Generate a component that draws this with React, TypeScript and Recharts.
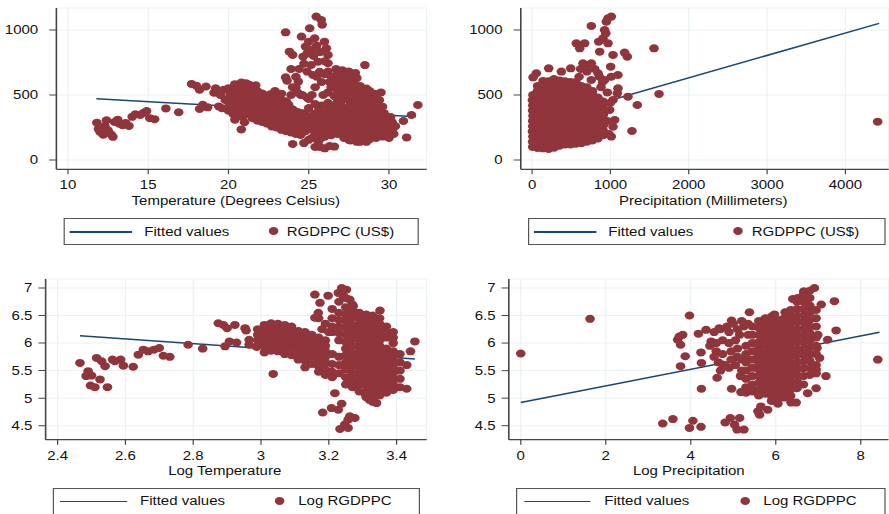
import React from "react";
import { ScatterChart, Scatter, XAxis, YAxis, CartesianGrid } from "recharts";

// the reference image is stretched sideways, so the whole figure is drawn narrow and scaled in x
const S = 1.2;
const FONT = '"Liberation Sans", Arial, Helvetica, sans-serif';
const NAVY = "#1a476f";
const MAROON = "#90353b";
const GRID = "#eaf2f3";
const AXIS = "#444";

// ---- ticks ----
const tempTicks = [10, 15, 20, 25, 30];
const precipTicks = [0, 1000, 2000, 3000, 4000];
const gdpTicks = [0, 500, 1000];
const logTempTicks = [2.4, 2.6, 2.8, 3, 3.2, 3.4];
const logPrecipTicks = [0, 2, 4, 6, 8];
const logGdpTicks = [4.5, 5, 5.5, 6, 6.5, 7];

// ---- fitted values (end points) ----
const tempFit = [[11.77, 472], [31.66, 333]];
const precipFit = [[0, 287], [4430, 1051]];
const logTempFit = [[2.466, 6.134], [3.454, 5.71]];
const logPrecipFit = [[0, 4.92], [8.44, 6.195]];

// ---- Temperature (C) vs RGDPPC (US$) ----
const tempGdp = [
  [11.8,287],[11.9,238],[12.0,215],[12.2,195],[12.3,262],[12.4,306],[12.5,228],[12.7,196],[12.8,178],[12.9,292],
  [13.1,310],[13.2,280],[13.4,268],[13.6,285],[13.8,262],[14.0,332],[14.2,352],[14.5,346],[14.7,362],[14.9,376],
  [15.1,322],[15.4,314],[16.1,397],[16.9,367],
  [17.7,585],[18.0,572],[18.2,540],[18.6,565],[18.2,392],[18.4,425],[18.7,405],[19.2,552],[19.1,518],[19.4,412],
  [19.6,398],[19.8,462],[19.7,540],[19.5,500],
  [20.0,380],[20.0,445],[20.1,500],[20.0,552],[20.3,352],[20.3,418],[20.4,482],[20.3,540],[20.4,583],
  [20.6,340],[20.7,402],[20.6,462],[20.7,520],[20.6,568],[20.8,596],[20.9,332],[21.0,392],[20.9,452],
  [21.0,508],[21.0,560],[21.1,590],[21.2,362],[21.3,420],[21.2,480],[21.3,540],[21.3,578],[21.5,322],
  [21.6,382],[21.5,440],[21.6,500],[21.5,550],[21.7,575],[21.8,302],[21.9,362],[21.8,420],[21.9,480],
  [21.8,530],[22.1,292],[22.2,352],[22.1,410],[22.2,470],[22.1,512],[20.8,235],[20.4,310],[21.0,290],
  [20.15,410],[20.15,470],[20.15,525],[20.45,385],[20.45,450],[20.45,510],[20.45,560],[20.75,370],[20.75,430],
  [20.75,490],[20.75,545],[21.05,360],[21.05,420],[21.05,480],[21.05,535],[21.35,350],[21.35,390],[21.35,450],
  [21.35,510],[21.35,560],[21.65,350],[21.65,410],[21.65,470],[21.65,525],[21.95,330],[21.95,390],[21.95,450],
  [21.95,505],[22.25,320],[22.25,380],[22.25,440],[22.25,490],
  [22.4,280],[22.5,340],[22.4,400],[22.5,460],[22.6,505],[22.7,258],[22.8,320],[22.7,380],[22.8,440],
  [22.9,490],[23.0,250],[23.1,302],[23.0,362],[23.1,420],[23.0,480],[23.3,232],[23.4,290],[23.3,350],
  [23.4,410],[23.3,460],[23.6,222],[23.7,280],[23.6,340],[23.7,400],[23.6,452],[23.9,212],[24.0,270],
  [23.9,330],[24.0,390],[23.9,500],[24.2,200],[24.3,252],[24.2,310],[24.3,370],[24.2,560],[24.5,192],
  [24.6,240],[24.5,300],[24.6,360],[24.5,500],[24.8,222],[24.9,290],[24.8,350],[24.9,480],
  [22.55,310],[22.55,370],[22.55,430],[22.55,480],[22.85,290],[22.85,350],[22.85,410],[22.85,465],[23.15,275],
  [23.15,330],[23.15,390],[23.15,450],[23.45,260],[23.45,320],[23.45,380],[23.45,435],[23.75,250],[23.75,310],
  [23.75,370],[23.75,425],[24.05,240],[24.05,300],[24.05,360],[24.35,225],[24.35,280],[24.35,340],[24.65,215],
  [24.65,270],[24.65,330],[24.95,250],[24.95,320],
  [24.0,123],[24.7,130],[25.0,155],[22.9,530],[23.3,510],
  [25.2,170],[25.3,230],[25.2,290],[25.3,350],[25.6,140],[25.7,200],[25.6,260],[25.7,320],[25.6,380],
  [26.0,180],[26.1,240],[26.0,300],[26.1,360],[26.4,190],[26.5,250],[26.4,310],[26.5,370],
  [26.8,200],[26.9,260],[26.8,320],[26.9,380],[27.2,170],[27.3,230],[27.2,290],[27.3,350],[27.2,400],
  [27.6,150],[27.7,210],[27.6,270],[27.7,330],[27.6,390],[28.0,140],[28.1,200],[28.0,260],[28.1,320],
  [28.0,380],[28.4,150],[28.5,210],[28.4,270],[28.5,330],[28.4,390],[28.8,160],[28.9,220],[28.8,280],
  [28.9,340],[29.2,170],[29.3,230],[29.2,290],[29.3,350],[29.6,180],[29.7,240],[29.6,300],[29.7,360],
  [30.0,170],[30.1,230],[30.0,290],[30.1,330],[30.3,200],[30.4,260],
  [25.4,200],[25.4,260],[25.4,320],[25.8,170],[25.8,230],[25.8,290],[25.8,350],[26.2,210],[26.2,270],
  [26.2,330],[26.2,390],[26.6,220],[26.6,280],[26.6,340],[26.6,400],[27.0,230],[27.0,290],[27.0,350],
  [27.0,410],[27.4,200],[27.4,260],[27.4,320],[27.4,380],[27.8,180],[27.8,240],[27.8,300],[27.8,360],
  [27.8,410],[28.2,170],[28.2,230],[28.2,290],[28.2,350],[28.2,410],[28.6,180],[28.6,240],[28.6,300],
  [28.6,360],[29.0,190],[29.0,250],[29.0,310],[29.0,370],[29.4,200],[29.4,260],[29.4,320],[29.4,380],
  [29.8,210],[29.8,270],[29.8,330],[30.2,230],[30.2,290],
  [25.4,100],[25.7,100],[26.0,90],[26.3,108],[26.6,103],[27.5,155],[28.2,140],[28.6,140],[31.1,174],
  [31.4,346],[31.8,423],[30.9,300],
  [26.2,520],[26.3,600],[26.2,680],[26.6,490],[26.7,560],[26.6,640],[26.7,700],[27.0,480],[27.1,550],
  [27.0,620],[27.1,690],[27.4,470],[27.5,540],[27.4,610],[27.5,680],[27.8,460],[27.9,530],[27.8,600],
  [27.9,670],[28.2,450],[28.3,510],[28.2,570],[28.6,440],[28.7,500],[28.6,550],[29.0,450],[29.1,510],
  [29.4,460],[29.5,520],[28.5,730],[29.6,410],[29.3,460],
  [26.4,560],[26.4,640],[26.8,520],[26.8,600],[26.8,670],[27.2,510],[27.2,580],[27.2,650],[27.6,500],
  [27.6,570],[27.6,640],[28.0,490],[28.0,560],[28.0,630],[28.4,480],[28.4,540],[28.8,470],[28.8,530],
  [29.2,480],[26.4,420],[27.0,440],[27.6,430],[28.2,420],[28.8,410],[29.2,420],[26.8,450],
  [23.56,982],[23.8,833],[24.0,808],[23.9,700],[23.56,636],[23.65,610],[24.35,603],[24.55,949],[25.06,1013],
  [25.37,936],[25.47,1103],[25.78,1077],[25.84,1040],[25.98,910],[26.1,859],[26.2,808],[24.8,872],[25.0,910],
  [25.15,731],[25.27,654],[24.65,795],[25.58,756],[25.68,679],[26.2,744],[24.3,520],[24.6,500],[25.0,470],
  [25.4,560],[25.8,600],[25.9,500],[24.0,560],[25.2,500],[25.0,400],[25.4,430],[25.8,420],[26.2,440],
  [24.2,640],[24.4,700],[24.7,740],[24.9,820],[25.2,850],[25.5,880],[25.7,830],[26.0,760],[25.3,800],
  [24.9,680],[25.5,640],[26.0,660],
];

// ---- Precipitation (mm) vs RGDPPC (US$) ----
const precipGdp = [
  [8,100],[6,140],[10,180],[5,220],[9,260],[7,300],[11,340],[6,380],[9,420],[5,460],[10,500],
  [70,92],[66,130],[73,170],[68,210],[72,250],[67,290],[74,330],[69,370],[71,410],[66,450],[73,490],[68,530],[71,570],
  [140,90],[136,130],[143,170],[138,210],[142,250],[137,290],[144,330],[139,370],[141,410],[136,450],[143,490],
  [138,530],[142,570],[140,608],
  [210,85],[206,125],[213,165],[208,205],[212,245],[207,285],[214,325],[209,365],[211,405],[206,445],[213,485],
  [208,525],[212,565],[209,605],
  [280,95],[276,135],[283,175],[278,215],[282,255],[277,295],[284,335],[279,375],[281,415],[276,455],[283,495],
  [278,535],[282,575],[280,622],
  [350,110],[346,150],[353,190],[348,230],[352,270],[347,310],[354,350],[349,390],[351,430],[346,470],[353,510],
  [348,550],[352,590],[350,612],
  [420,120],[416,160],[423,200],[418,240],[422,280],[417,320],[424,360],[419,400],[421,440],[416,480],[423,520],
  [418,560],[421,605],
  [490,120],[486,160],[493,200],[488,240],[492,280],[487,320],[494,360],[489,400],[491,440],[486,480],[493,520],
  [488,560],[491,600],
  [560,125],[556,165],[563,205],[558,245],[562,285],[557,325],[564,365],[559,405],[561,445],[556,485],[563,525],
  [558,565],[560,600],
  [630,130],[626,170],[633,210],[628,250],[632,290],[627,330],[634,370],[629,410],[631,450],[626,490],[633,530],
  [628,570],
  [700,140],[696,180],[703,220],[698,260],[702,300],[697,340],[704,380],[699,420],[701,460],[696,500],[703,540],
  [699,560],
  [770,150],[766,190],[773,230],[768,270],[772,310],[767,350],[774,390],[769,430],[771,470],[766,510],[772,530],
  [840,165],[836,205],[843,245],[838,285],[842,325],[837,365],[844,405],[839,445],[841,480],
  [910,190],[906,230],[913,270],[908,310],[912,350],[907,390],[914,430],[909,450],
  [13,636],[55,667],[212,705],[374,680],[493,705],[650,744],[756,744],[671,897],[565,897],[608,859],
  [756,1031],[850,910],[863,833],[905,936],[926,1000],[940,974],[969,1090],[1011,1103],[948,1064],
  [969,897],[1033,808],[1003,718],[1011,641],[1096,654],[1181,826],[1215,795],[1556,859],[1096,551],
  [1088,513],[1224,487],[1343,423],[1620,508],[1275,223],[1011,180],[4411,295],[926,615],[842,667],
  [756,615],[1033,462],[990,385],[1054,308],[1033,256],[700,680],[600,640],[880,560],[960,520],
  [1000,440],[960,300],[980,200],[620,700],[690,720],[800,700],[860,640],[900,600],
];

// ---- Log temperature vs log RGDPPC ----
const logTempGdp = [
  [2.466,5.64],[2.49,5.49],[2.484,5.40],[2.50,5.41],[2.497,5.23],[2.51,5.20],[2.515,5.73],[2.525,5.34],
  [2.53,5.67],[2.54,5.58],[2.547,5.20],[2.562,5.70],[2.569,5.67],[2.586,5.70],[2.594,5.59],[2.623,5.57],
  [2.638,5.79],[2.653,5.88],[2.667,5.85],[2.684,5.88],[2.70,5.91],[2.712,5.77],[2.731,5.75],[2.785,5.97],
  [2.828,5.90],[2.874,6.36],[2.889,6.33],[2.90,6.27],[2.923,6.33],[2.894,5.94],[2.907,6.03],[2.928,6.01],
  [2.953,6.27],[2.956,6.23],[2.965,6.06],[2.965,5.97],[2.987,5.93],[3.036,5.44],
  [2.99,6.25],[2.99,6.15],[2.99,6.05],[2.99,5.95],
  [3.01,6.33],[3.01,6.23],[3.01,6.13],[3.01,6.03],[3.01,5.93],[3.01,5.83],
  [3.03,6.36],[3.03,6.26],[3.03,6.16],[3.03,6.06],[3.03,5.96],[3.03,5.86],
  [3.05,6.35],[3.05,6.25],[3.05,6.15],[3.05,6.05],[3.05,5.95],[3.05,5.85],
  [3.07,6.33],[3.07,6.23],[3.07,6.13],[3.07,6.03],[3.07,5.93],[3.07,5.80],
  [3.09,6.30],[3.09,6.20],[3.09,6.10],[3.09,6.00],[3.09,5.90],[3.09,5.78],
  [3.11,6.22],[3.11,6.12],[3.11,6.02],[3.11,5.92],[3.11,5.80],[3.11,5.70],
  [3.13,6.20],[3.13,6.10],[3.13,6.00],[3.13,5.90],[3.13,5.80],[3.13,5.68],[3.13,5.56],
  [3.15,6.15],[3.15,6.05],[3.15,5.95],[3.15,5.85],[3.15,5.75],[3.15,5.62],
  [3.17,6.10],[3.17,6.00],[3.17,5.90],[3.17,5.80],[3.17,5.70],[3.17,5.58],[3.17,5.48],
  [3.19,6.05],[3.19,5.95],[3.19,5.85],[3.19,5.75],[3.19,5.65],[3.19,5.52],[3.19,5.42],
  [3.17,6.45],[3.19,6.35],[3.18,6.25],[3.20,6.20],
  [3.21,6.62],[3.21,6.45],[3.21,6.30],[3.21,6.20],[3.21,5.80],[3.21,5.62],[3.21,5.48],[3.21,5.38],
  [3.23,6.75],[3.23,6.55],[3.23,6.42],[3.23,6.30],[3.23,6.18],[3.23,6.05],[3.23,5.75],[3.23,5.60],[3.23,5.45],
  [3.25,6.82],[3.25,6.65],[3.25,6.52],[3.25,6.40],[3.25,6.28],[3.25,6.15],[3.25,6.02],[3.25,5.90],
  [3.25,5.78],[3.25,5.65],[3.25,5.52],[3.25,5.38],[3.25,5.25],
  [3.27,6.70],[3.27,6.58],[3.27,6.45],[3.27,6.32],[3.27,6.20],[3.27,6.08],[3.27,5.95],[3.27,5.82],
  [3.27,5.70],[3.27,5.58],[3.27,5.45],[3.27,5.32],[3.27,5.20],
  [3.29,6.55],[3.29,6.45],[3.29,6.35],[3.29,6.25],[3.29,6.15],[3.29,6.05],[3.29,5.95],[3.29,5.85],
  [3.29,5.75],[3.29,5.65],[3.29,5.55],[3.29,5.45],[3.29,5.35],[3.29,5.25],[3.29,5.12],
  [3.31,6.52],[3.31,6.42],[3.31,6.32],[3.31,6.22],[3.31,6.12],[3.31,6.02],[3.31,5.92],[3.31,5.82],
  [3.31,5.72],[3.31,5.62],[3.31,5.52],[3.31,5.42],[3.31,5.32],[3.31,5.22],[3.31,5.12],[3.31,5.02],
  [3.33,6.50],[3.33,6.40],[3.33,6.30],[3.33,6.20],[3.33,6.10],[3.33,6.00],[3.33,5.90],[3.33,5.80],
  [3.33,5.70],[3.33,5.60],[3.33,5.50],[3.33,5.40],[3.33,5.30],[3.33,5.20],[3.33,5.10],[3.33,5.00],[3.33,4.93],
  [3.35,6.45],[3.35,6.35],[3.35,6.25],[3.35,6.15],[3.35,6.05],[3.35,5.95],[3.35,5.85],[3.35,5.75],
  [3.35,5.65],[3.35,5.55],[3.35,5.45],[3.35,5.35],[3.35,5.25],[3.35,5.15],[3.35,5.05],
  [3.37,6.30],[3.37,6.20],[3.37,6.10],[3.37,5.90],[3.37,5.80],[3.37,5.70],[3.37,5.60],[3.37,5.50],
  [3.37,5.40],[3.37,5.30],[3.37,5.20],[3.37,5.10],
  [3.39,6.20],[3.39,6.10],[3.39,5.85],[3.39,5.75],[3.39,5.65],[3.39,5.55],[3.39,5.45],[3.39,5.35],
  [3.39,5.25],[3.39,5.15],
  [3.41,5.80],[3.41,5.65],[3.41,5.50],[3.41,5.35],[3.41,5.20],[3.43,5.60],
  [3.159,6.88],[3.174,6.73],[3.198,6.86],[3.228,6.91],[3.238,7.0],[3.252,6.97],[3.262,6.79],[3.243,6.85],
  [3.272,6.67],[3.282,6.55],[3.351,6.59],[3.159,6.46],[3.169,6.55],
  [3.182,4.74],[3.208,4.82],[3.218,5.09],[3.228,4.79],[3.238,4.90],[3.233,4.44],[3.247,4.52],[3.257,4.46],
  [3.262,4.67],[3.277,4.64],[3.257,4.61],[3.43,5.17],[3.441,5.85],[3.454,6.03],[3.39,6.0],[3.341,4.91],
  [3.32,4.97],[3.306,5.09],[3.267,5.24],
];

// ---- Log precipitation vs log RGDPPC ----
const logPrecipGdp = [
  [0,5.81],[1.63,6.44],[3.97,6.50],[3.69,6.06],[3.73,6.12],[3.81,6.15],[3.76,5.97],[3.87,5.76],[3.76,5.58],
  [3.34,4.54],[3.58,4.62],[3.97,4.46],[4.05,4.59],[4.24,4.48],[4.18,6.17],[4.36,6.24],[4.24,5.83],
  [4.25,5.64],[4.25,5.17],[4.48,6.03],[4.67,6.27],[4.62,5.37],[4.81,4.56],[4.93,4.64],[4.96,5.17],
  [4.96,6.41],[5.03,4.52],[5.09,4.43],[5.15,4.64],[5.25,4.43],[5.38,6.56],[5.58,4.76],[5.62,4.70],
  [5.65,4.85],[5.81,4.79],[6.36,4.92],[6.48,4.92],[7.18,5.40],[7.22,6.06],[7.42,6.23],[7.38,6.76],
  [8.40,5.70],[6.91,7.0],[6.66,6.94],[7.07,6.70],[6.95,5.18],[6.75,5.09],[5.97,6.52],[6.22,6.56],
  [6.40,6.80],[6.52,6.82],[6.99,6.15],[6.97,5.91],[7.03,5.73],[6.95,5.52],[5.17,5.40],[5.18,5.11],[4.75,5.61],
  [4.55,6.2],[4.7,6.25],[4.85,6.3],[4.9,6.2],[5.0,6.35],[5.1,6.25],[5.2,6.4],[5.25,6.3],[5.15,6.15],
  [4.6,6.0],[4.75,6.05],[4.9,6.0],[5.05,6.05],[4.45,5.95],[4.6,5.85],[4.75,5.8],[4.95,5.85],[5.1,5.9],
  [4.65,5.65],[4.8,5.6],[4.95,5.7],[5.1,5.75],[4.7,5.5],[4.9,5.55],[5.05,5.6],[5.2,5.5],[5.2,5.7],
  [5.35,6.15],[5.35,6.35],[4.55,5.75],
  [5.30,5.95],[5.30,5.80],[5.30,5.65],[5.30,5.50],[5.30,5.35],[5.30,5.20],[5.30,5.10],
  [5.45,6.30],[5.45,6.15],[5.45,6.00],[5.45,5.85],[5.45,5.70],[5.45,5.55],[5.45,5.40],[5.45,5.25],[5.45,5.12],
  [5.60,6.40],[5.60,6.28],[5.60,6.15],[5.60,6.02],[5.60,5.90],[5.60,5.78],[5.60,5.65],[5.60,5.52],
  [5.60,5.40],[5.60,5.28],[5.60,5.15],[5.60,5.05],
  [5.75,6.45],[5.75,6.32],[5.75,6.20],[5.75,6.08],[5.75,5.95],[5.75,5.82],[5.75,5.70],[5.75,5.58],
  [5.75,5.45],[5.75,5.32],[5.75,5.20],[5.75,5.08],
  [5.90,6.48],[5.90,6.36],[5.90,6.24],[5.90,6.12],[5.90,6.00],[5.90,5.88],[5.90,5.76],[5.90,5.64],
  [5.90,5.52],[5.90,5.40],[5.90,5.28],[5.90,5.16],[5.90,5.04],[5.90,4.95],
  [6.05,6.42],[6.05,6.30],[6.05,6.18],[6.05,6.06],[6.05,5.94],[6.05,5.82],[6.05,5.70],[6.05,5.58],
  [6.05,5.46],[6.05,5.34],[6.05,5.22],[6.05,5.10],[6.05,4.98],[6.05,4.90],
  [6.20,6.45],[6.20,6.33],[6.20,6.21],[6.20,6.09],[6.20,5.97],[6.20,5.85],[6.20,5.73],[6.20,5.61],
  [6.20,5.49],[6.20,5.37],[6.20,5.25],[6.20,5.13],[6.20,5.01],
  [6.35,6.60],[6.35,6.48],[6.35,6.36],[6.35,6.24],[6.35,6.12],[6.35,6.00],[6.35,5.88],[6.35,5.76],
  [6.35,5.64],[6.35,5.52],[6.35,5.40],[6.35,5.28],[6.35,5.16],[6.35,5.04],
  [6.50,6.75],[6.50,6.62],[6.50,6.50],[6.50,6.38],[6.50,6.26],[6.50,6.14],[6.50,6.02],[6.50,5.90],
  [6.50,5.78],[6.50,5.66],[6.50,5.54],[6.50,5.42],[6.50,5.30],[6.50,5.18],
  [6.65,6.88],[6.65,6.75],[6.65,6.62],[6.65,6.50],[6.65,6.38],[6.65,6.26],[6.65,6.14],[6.65,6.02],
  [6.65,5.90],[6.65,5.78],[6.65,5.66],[6.65,5.54],[6.65,5.40],[6.65,5.25],
  [6.80,6.95],[6.80,6.82],[6.80,6.68],[6.80,6.55],[6.80,6.42],[6.80,6.30],[6.80,6.18],[6.80,6.05],
  [6.80,5.92],[6.80,5.80],[6.80,5.68],[6.80,5.55],[6.80,5.42],
  [6.95,6.60],[6.95,6.45],[6.95,6.30],[6.95,6.10],[6.95,5.95],[6.95,5.80],[6.95,5.60],[6.95,5.45],
];

type Pt = { x: number; y: number };
const toPts = (rows: number[][]): Pt[] => rows.map(([x, y]) => ({ x, y }));

const YW = 44; // y axis band
const MT = 4;
const MR = 4;
const XH = 24;

type PanelProps = {
  plotX: number; // unscaled px
  plotY: number;
  plotW: number;
  plotH: number;
  xDomain: [number, number];
  yDomain: [number, number];
  xTicks: number[];
  yTicks: number[];
  yGap: number;
  points: number[][];
  fit: number[][];
};

const tickStyle = { fill: "#111", fontSize: 12.5, fontFamily: FONT };

const Dot = (p: any) => <circle cx={p.cx} cy={p.cy} r={4} fill={MAROON} />;
const NoDot = () => <g />;

function Panel({ plotX, plotY, plotW, plotH, xDomain, yDomain, xTicks, yTicks, yGap, points, fit }: PanelProps) {
  const width = YW + plotW + MR;
  const height = MT + plotH + XH;
  return (
    <div style={{ position: "absolute", left: plotX - YW, top: plotY - MT, width, height }}>
      <ScatterChart width={width} height={height} margin={{ top: MT, right: MR, left: 0, bottom: 0 }}>
        <CartesianGrid stroke={GRID} strokeWidth={1} />
        <XAxis
          type="number"
          dataKey="x"
          domain={xDomain}
          ticks={xTicks}
          interval={0}
          allowDataOverflow
          height={XH}
          tickSize={5}
          tickMargin={6}
          tick={tickStyle}
          tickLine={{ stroke: AXIS }}
          axisLine={{ stroke: AXIS, strokeWidth: 1.3 }}
        />
        <YAxis
          type="number"
          dataKey="y"
          domain={yDomain}
          ticks={yTicks}
          interval={0}
          allowDataOverflow
          width={YW}
          tickSize={6}
          tickMargin={yGap}
          tick={tickStyle}
          tickLine={{ stroke: AXIS }}
          axisLine={{ stroke: AXIS, strokeWidth: 1.3 }}
        />
        <Scatter
          data={toPts(fit)}
          line={{ stroke: NAVY, strokeWidth: 1.5 }}
          shape={NoDot}
          isAnimationActive={false}
        />
        <Scatter data={toPts(points)} shape={Dot} isAnimationActive={false} />
      </ScatterChart>
    </div>
  );
}

const textBase: React.CSSProperties = {
  position: "absolute",
  fontFamily: FONT,
  fontSize: 12.5,
  lineHeight: "14px",
  color: "#111",
  whiteSpace: "nowrap",
};

// cx in reference px, capTop = y of capital tops
function AxisTitle({ cx, capTop, text }: { cx: number; capTop: number; text: string }) {
  return (
    <div style={{ ...textBase, left: cx / S - 150, width: 300, textAlign: "center", top: capTop - 2.4 }}>
      {text}
    </div>
  );
}

type LegendCfg = {
  left: number; right: number; top: number;
  lineX1: number; lineX2: number; textX: number; markerX: number; labelX: number;
};

function LegendBox({ cfg, label }: { cfg: LegendCfg; label: string }) {
  const lineY = cfg.top + 14;
  const rel = (x: number) => (x - cfg.left) / S - 1;
  const relY = (y: number) => y - cfg.top - 1;
  return (
    <div
      style={{
        position: "absolute",
        left: cfg.left / S,
        top: cfg.top,
        width: (cfg.right - cfg.left) / S,
        height: 27,
        border: "1px solid #555",
        boxSizing: "border-box",
        background: "#fff",
      }}
    >
      <div
        style={{
          position: "absolute",
          left: rel(cfg.lineX1),
          width: (cfg.lineX2 - cfg.lineX1) / S,
          top: relY(lineY) - 0.75,
          height: 1.5,
          background: NAVY,
        }}
      />
      <div style={{ ...textBase, left: rel(cfg.textX), top: relY(lineY - 5) - 2.4 }}>Fitted values</div>
      <div
        style={{
          position: "absolute",
          left: rel(cfg.markerX) - 4,
          top: relY(lineY - 1) - 4,
          width: 8,
          height: 8,
          borderRadius: "50%",
          background: MAROON,
        }}
      />
      <div style={{ ...textBase, left: rel(cfg.labelX), top: relY(lineY - 5) - 2.4 }}>{label}</div>
    </div>
  );
}

export default function App() {
  return (
    <div
      style={{
        position: "absolute",
        left: 0,
        top: 0,
        width: 889 / S,
        height: 514,
        overflow: "hidden",
        background: "#fff",
        transform: `scaleX(${S})`,
        transformOrigin: "0 0",
      }}
    >
      <Panel
        plotX={56.7 / S} plotY={8} plotW={(427 - 56.7) / S} plotH={161.3}
        xDomain={[9.28, 32.35]} yDomain={[-71.5, 1169]}
        xTicks={tempTicks} yTicks={gdpTicks} yGap={9.2}
        points={tempGdp} fit={tempFit}
      />
      <Panel
        plotX={521 / S} plotY={8} plotW={(889 - 521) / S} plotH={161.3}
        xDomain={[-144, 4553]} yDomain={[-71.5, 1169]}
        xTicks={precipTicks} yTicks={gdpTicks} yGap={9.2}
        points={precipGdp} fit={precipFit}
      />
      <Panel
        plotX={45.7 / S} plotY={279.3} plotW={(426.7 - 45.7) / S} plotH={160.7}
        xDomain={[2.3646, 3.4885]} yDomain={[4.246, 7.163]}
        xTicks={logTempTicks} yTicks={logGdpTicks} yGap={5}
        points={logTempGdp} fit={logTempFit}
      />
      <Panel
        plotX={509.3 / S} plotY={279.3} plotW={(889 - 509.3) / S} plotH={160.7}
        xDomain={[-0.282, 8.652]} yDomain={[4.246, 7.163]}
        xTicks={logPrecipTicks} yTicks={logGdpTicks} yGap={5}
        points={logPrecipGdp} fit={logPrecipFit}
      />

      <AxisTitle cx={235.8} capTop={196.7} text="Temperature (Degrees Celsius)" />
      <AxisTitle cx={703.3} capTop={196.7} text="Precipitation (Millimeters)" />
      <AxisTitle cx={224.7} capTop={466.7} text="Log Temperature" />
      <AxisTitle cx={688.8} capTop={466.7} text="Log Precipitation" />

      <LegendBox
        cfg={{ left: 63.3, right: 418.3, top: 218, lineX1: 70, lineX2: 132.3, textX: 144.3, markerX: 273.3, labelX: 286.7 }}
        label="RGDPPC (US$)"
      />
      <LegendBox
        cfg={{ left: 527.7, right: 885, top: 218, lineX1: 534.3, lineX2: 596.7, textX: 608.3, markerX: 738.3, labelX: 751.7 }}
        label="RGDPPC (US$)"
      />
      <LegendBox
        cfg={{ left: 52.7, right: 420, top: 487.5, lineX1: 60, lineX2: 127.3, textX: 140, markerX: 279.3, labelX: 298.3 }}
        label="Log RGDPPC"
      />
      <LegendBox
        cfg={{ left: 516, right: 885, top: 487.5, lineX1: 524.3, lineX2: 591, textX: 604.3, markerX: 745, labelX: 763.3 }}
        label="Log RGDPPC"
      />
    </div>
  );
}
